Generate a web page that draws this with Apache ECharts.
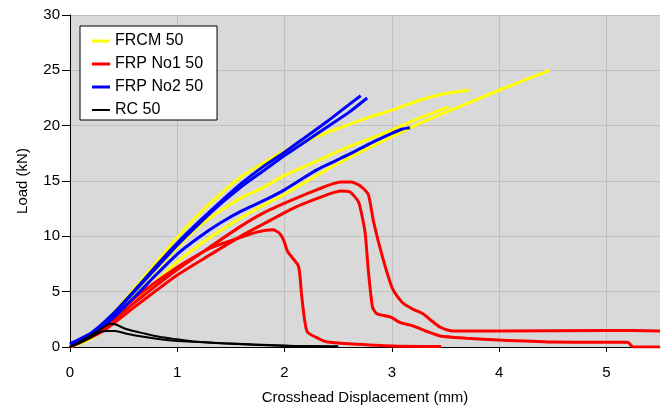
<!DOCTYPE html>
<html>
<head>
<meta charset="utf-8">
<script src="https://cdn.jsdelivr.net/npm/echarts@6/dist/echarts.min.js"></script>
<style>
  html, body { margin: 0; padding: 0; background: #fff; }
  #chart { width: 669px; height: 410px; }
</style>
</head>
<body>
<div id="chart"></div>
<script>
// tick labels
const xTicks = [0, 1, 2, 3, 4, 5];
const yTicks = [0, 5, 10, 15, 20, 25, 30];

// FRCM 50 (three specimens) - [displacement mm, load kN]
const frcmA = [[0,0],[0.2,1.1],[0.4,3.0],[0.6,5.3],[0.8,7.6],[1.0,9.9],[1.2,12.0],[1.4,13.8],[1.6,15.4],[1.8,16.6],[2.0,17.7],[2.3,19.0],[2.6,20.1],[2.8,20.8],[3.0,21.4],[3.26,22.3],[3.5,22.9],[3.72,23.2]];
const frcmB = [[0,0],[0.2,0.9],[0.4,2.7],[0.6,4.9],[0.8,7.0],[1.0,9.0],[1.2,10.9],[1.4,12.3],[1.6,13.5],[1.8,14.4],[2.0,15.5],[2.3,16.8],[2.6,18.1],[3.0,19.6],[3.26,20.7],[3.53,21.7]];
const frcmC = [[0,0],[0.2,0.8],[0.4,2.3],[0.6,4.1],[0.8,5.9],[1.0,7.7],[1.2,9.2],[1.4,10.5],[1.6,11.7],[1.8,12.8],[2.0,13.8],[2.3,15.5],[2.6,17.1],[3.0,19.0],[3.26,20.2],[3.5,21.2],[4.0,23.2],[4.47,25.0]];

// FRP No1 50
const frp1A = [[0,0],[0.3,1.8],[0.6,4.4],[1.0,7.2],[1.3,8.9],[1.59,9.9],[1.75,10.4],[1.89,10.6],[1.95,10.3],[1.99,9.7],[2.03,8.6],[2.13,7.3],[2.16,4.6],[2.21,1.4],[2.33,0.7],[2.4,0.45],[2.6,0.3],[3.0,0.1],[3.46,0.05]];
const frp1B = [[0,0],[0.3,1.4],[0.6,3.6],[1.0,6.5],[1.3,8.3],[1.59,10.0],[1.8,11.1],[2.05,12.4],[2.3,13.4],[2.52,14.1],[2.61,14.0],[2.69,13.1],[2.75,10.4],[2.78,7.0],[2.82,3.6],[2.86,3.0],[2.99,2.7],[3.08,2.2],[3.2,1.9],[3.33,1.4],[3.45,1.0],[3.7,0.8],[4.0,0.63],[4.5,0.45],[5.2,0.42],[5.25,0.0],[5.5,0.0]];
const frp1C = [[0,0],[0.3,1.6],[0.6,4.0],[1.0,7.0],[1.3,9.0],[1.59,10.9],[1.8,12.1],[2.05,13.2],[2.3,14.2],[2.52,14.9],[2.62,14.9],[2.7,14.6],[2.78,13.8],[2.83,11.3],[2.92,7.9],[3.01,5.2],[3.1,4.0],[3.2,3.4],[3.29,3.0],[3.38,2.3],[3.45,1.8],[3.57,1.45],[4.0,1.45],[5.0,1.5],[5.5,1.45]];

// FRP No2 50
const frp2A = [[0,0.3],[0.2,1.3],[0.4,3.0],[0.6,5.1],[0.8,7.3],[1.0,9.4],[1.2,11.3],[1.4,13.1],[1.6,14.8],[1.8,16.3],[2.0,17.6],[2.2,19.0],[2.4,20.4],[2.6,21.9],[2.71,22.7]];
const frp2B = [[0,0.2],[0.2,1.2],[0.4,2.9],[0.6,5.0],[0.8,7.1],[1.0,9.2],[1.2,11.1],[1.4,12.9],[1.6,14.5],[1.8,15.9],[2.0,17.3],[2.2,18.6],[2.4,19.9],[2.6,21.2],[2.77,22.5]];
const frp2C = [[0,0.3],[0.2,1.1],[0.4,2.6],[0.6,4.5],[0.8,6.5],[1.0,8.4],[1.2,9.9],[1.4,11.2],[1.6,12.3],[1.8,13.2],[2.0,14.2],[2.3,16.0],[2.6,17.4],[2.8,18.4],[3.0,19.3],[3.1,19.7],[3.17,19.8]];

// RC 50
const rcA = [[0,0],[0.1,0.5],[0.2,1.1],[0.3,1.7],[0.37,2.1],[0.42,2.05],[0.53,1.6],[0.7,1.2],[0.84,0.9],[1.0,0.7],[1.15,0.5],[1.4,0.35],[1.61,0.27],[2.08,0.1],[2.5,0.05]];
const rcB = [[0,0],[0.1,0.4],[0.2,0.9],[0.28,1.35],[0.35,1.45],[0.42,1.45],[0.53,1.2],[0.7,0.9],[0.84,0.7],[1.0,0.55],[1.3,0.4],[1.7,0.2],[2.1,0.1],[2.5,0.05]];

const font = "'Liberation Sans', Arial, sans-serif";

function curve(name, data, color, width) {
  return {
    name: name,
    type: 'line',
    data: data,
    symbol: 'none',
    smooth: 0.2,
    color: color,
    lineStyle: { color: color, width: width },
    animation: false
  };
}

const chart = echarts.init(document.getElementById('chart'));

const series = [
  curve('FRCM 50', frcmA, '#ffff00', 3),
  curve('FRCM 50', frcmB, '#ffff00', 3),
  curve('FRCM 50', frcmC, '#ffff00', 3),
  curve('FRP No1 50', frp1A, '#ff0000', 3),
  curve('FRP No1 50', frp1B, '#ff0000', 3),
  curve('FRP No1 50', frp1C, '#ff0000', 3),
  curve('FRP No2 50', frp2A, '#0000ff', 3),
  curve('FRP No2 50', frp2B, '#0000ff', 3),
  curve('FRP No2 50', frp2C, '#0000ff', 3),
  curve('RC 50', rcA, '#000000', 2),
  curve('RC 50', rcB, '#000000', 2)
];

chart.setOption({
  animation: false,
  backgroundColor: '#ffffff',
  textStyle: { fontFamily: font },
  legend: {
    data: [
      { name: 'FRCM 50', icon: 'rect' },
      { name: 'FRP No1 50', icon: 'rect' },
      { name: 'FRP No2 50', icon: 'rect' },
      // thinner sample line for RC
      { name: 'RC 50', icon: 'path://M0,0 L0,0.01 M0,3 L0,3.01 M0,0.5 L18,0.5 L18,2.5 L0,2.5 Z' }
    ],
    orient: 'vertical',
    left: 80,
    top: 26,
    padding: [7, 14, 2, 12],
    itemWidth: 18,
    itemHeight: 3,
    itemGap: 7,
    backgroundColor: '#ffffff',
    borderColor: '#000000',
    borderWidth: 1,
    borderRadius: 0,
    textStyle: { fontFamily: font, fontSize: 16, color: '#000' }
  },
  grid: {
    left: 70,
    right: 9,
    top: 15,
    bottom: 62,
    show: true,
    backgroundColor: '#d9d9d9',
    borderWidth: 0
  },
  xAxis: {
    type: 'value',
    min: 0,
    max: 5.5,
    interval: 1,
    name: 'Crosshead Displacement (mm)',
    nameLocation: 'middle',
    nameGap: 43,
    nameTextStyle: { fontFamily: font, fontSize: 15, color: '#000' },
    axisLine: { show: true, onZero: false, lineStyle: { color: '#000', width: 1 } },
    axisTick: { show: true, length: 5, customValues: xTicks, lineStyle: { color: '#000' } },
    axisLabel: { customValues: xTicks, fontFamily: font, fontSize: 15, color: '#000', margin: 18 },
    splitLine: { show: true, lineStyle: { color: '#c0c0c0', width: 1 } }
  },
  yAxis: {
    type: 'value',
    min: 0,
    max: 30,
    interval: 5,
    name: 'Load (kN)',
    nameLocation: 'middle',
    nameGap: 40,
    nameTextStyle: { fontFamily: font, fontSize: 15, color: '#000' },
    axisLine: { show: true, lineStyle: { color: '#000', width: 1 } },
    axisTick: { show: true, length: 8, customValues: yTicks, lineStyle: { color: '#000' } },
    axisLabel: { customValues: yTicks, fontFamily: font, fontSize: 15, color: '#000', margin: 10 },
    splitLine: { show: true, lineStyle: { color: '#c0c0c0', width: 1 } }
  },
  series: series
});
</script>
</body>
</html>
